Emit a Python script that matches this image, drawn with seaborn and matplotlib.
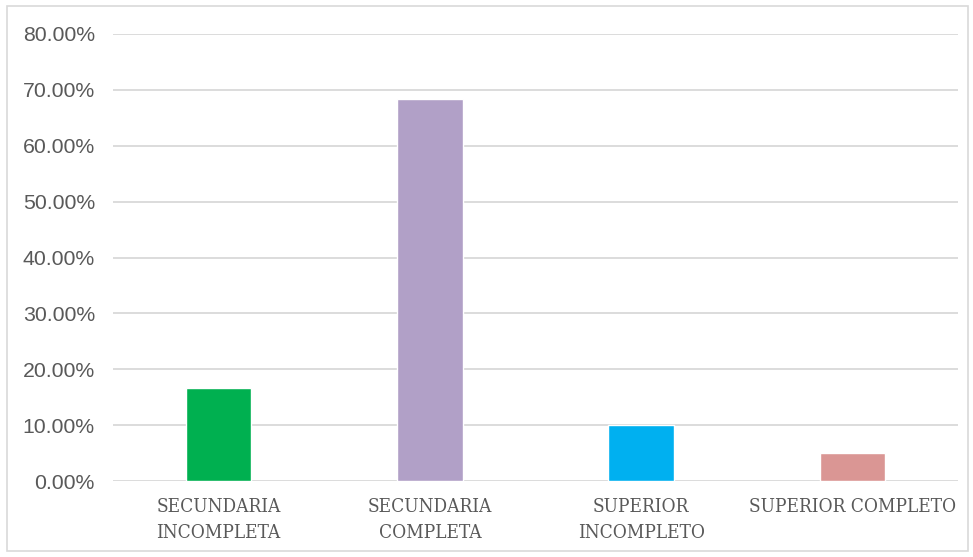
import matplotlib
matplotlib.use("Agg")
import matplotlib.pyplot as plt
import matplotlib.patches as mpatches
from matplotlib.ticker import FuncFormatter, MultipleLocator
from matplotlib.font_manager import FontProperties
import seaborn as sns
import pandas as pd

categories = ["SECUNDARIA\nINCOMPLETA", "SECUNDARIA\nCOMPLETA", "SUPERIOR\nINCOMPLETO", "SUPERIOR COMPLETO"]
values = [16.67, 68.33, 10.00, 5.00]
colors = ["#00B050", "#B1A0C7", "#00B0F0", "#DA9694"]

df = pd.DataFrame({"nivel": categories, "pct": values})

sns.set_theme(style="white")
fig = plt.figure(figsize=(9.73, 5.57), dpi=100)
ax = fig.add_axes([0.1161, 0.1364, 0.8685, 0.8026])

sns.barplot(data=df, x="nivel", y="pct", hue="nivel", palette=colors,
            legend=False, width=0.31, saturation=1, ax=ax)

ax.set_ylim(0, 80)
ax.set_xlim(-0.5, 3.5)
ax.yaxis.set_major_locator(MultipleLocator(10))
ax.yaxis.set_major_formatter(FuncFormatter(lambda v, p: f"{v:.2f}%"))
ax.yaxis.grid(True, color="#d9d9d9", linewidth=1.3)
ax.set_axisbelow(True)
for s in ax.spines.values():
    s.set_visible(False)
ax.set_xlabel("")
ax.set_ylabel("")
ax.tick_params(axis="both", length=0)
ax.tick_params(axis="y", pad=13)
ax.tick_params(axis="x", pad=12)

ytick_font = FontProperties(family="Liberation Sans", size=15.3)
xtick_font = FontProperties(family="DejaVu Serif", size=13.7, stretch="condensed")

for lab in ax.get_yticklabels():
    lab.set_fontproperties(ytick_font)
    lab.set_color("#595959")
for lab in ax.get_xticklabels():
    lab.set_fontproperties(xtick_font)
    lab.set_color("#595959")
    lab.set_linespacing(1.6)

border = mpatches.Rectangle((7 / 973, 6 / 557), 961 / 973, 545 / 557,
                            transform=fig.transFigure, fill=False,
                            edgecolor="#d9d9d9", linewidth=1.2)
fig.patches.append(border)

fig.savefig("out.png", dpi=100, facecolor="white")
